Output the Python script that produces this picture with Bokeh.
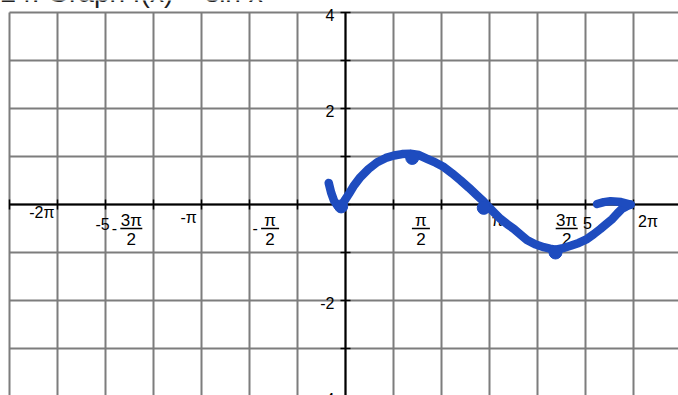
import numpy as np
from bokeh.plotting import figure
from bokeh.models import Range1d
from bokeh.core.properties import value
from bokeh.embed import file_html
from bokeh.resources import INLINE

PI = np.pi

# ---- axis labels -----------------------------------------------------------
y_label_vals = [4, 2, -2, -4]
y_label_text = ["4", "2", "-2", "-4"]

x_plain_vals = [-2 * PI, -5, -PI, PI, 5, 2 * PI]
x_plain_text = ["-2π", "-5", "-π", "π", "5", "2π"]

x_frac_vals = [-1.5 * PI, -0.5 * PI, 0.5 * PI, 1.5 * PI]
x_frac_sign = ["-", "-", "", ""]
x_frac_num = ["3π", "π", "π", "3π"]
x_frac_den = ["2", "2", "2", "2"]

# ---- hand-sketched graph of f(x) = sin x ----------------------------------
curve_x = [-0.10, -0.02, 0.07, 0.18, 0.31, 0.48, 0.66, 0.84, 1.01, 1.18, 1.35,
           1.53, 1.70, 1.88, 2.05, 2.22, 2.40, 2.57, 2.74, 2.87, 2.99, 3.11,
           3.23, 3.37, 3.51, 3.65, 3.78, 3.95, 4.13, 4.26, 4.375, 4.53, 4.69,
           4.86, 5.03, 5.17, 5.31, 5.44, 5.56, 5.66, 5.76, 5.85, 5.94]
curve_y = [-0.06, 0.08, 0.22, 0.40, 0.57, 0.74, 0.88, 0.97, 1.02, 1.05, 1.06,
           1.03, 0.95, 0.87, 0.78, 0.65, 0.50, 0.35, 0.19, 0.07, -0.06, -0.18,
           -0.30, -0.41, -0.51, -0.63, -0.74, -0.83, -0.89, -0.92, -0.94, -0.91,
           -0.86, -0.80, -0.72, -0.62, -0.51, -0.40, -0.30, -0.19, -0.09, -0.04, 0.0]
left_head_x = [-0.35, -0.30, -0.24, -0.17, -0.10]
left_head_y = [0.45, 0.25, 0.08, -0.02, -0.06]
right_head_x = [5.24, 5.38, 5.52, 5.74, 5.94]
right_head_y = [0.01, 0.05, 0.07, 0.05, 0.0]
point_x = [-0.09, 1.39, 2.88, 4.375]
point_y = [-0.04, 0.97, -0.07, -1.0]

# ---- layout ----------------------------------------------------------------
W, H = 678, 395
U = 48                      # pixels per unit
X0, Y0 = 345, 204           # pixel position of the origin
grid_x = list(range(-7, 7))
grid_y = list(range(-4, 5))
plain_dx = [-2, -3, -6, 1, 2, 1]
plain_dy = [8, 19, 13, 16, 18, 17]
frac_dx = [12, 0, 0, -5]

BLUE = "#1e4cbf"
GRID = "#7d7d7d"
FONT = value("Liberation Sans")

p = figure(width=W, height=H, output_backend="svg", toolbar_location=None,
           x_range=Range1d(-X0 / U, (W - X0) / U),
           y_range=Range1d((Y0 - H) / U, Y0 / U),
           min_border=0, outline_line_color=None)
p.axis.visible = False
p.grid.visible = False
p.background_fill_color = "white"
p.border_fill_color = "white"

xmin, xmax = -7, (W - X0) / U
ymin, ymax = (Y0 - H) / U - 0.1, 4

# graph paper
p.segment(x0=grid_x, y0=[ymin] * len(grid_x), x1=grid_x, y1=[ymax] * len(grid_x),
          line_color=GRID, line_width=2)
p.segment(x0=[xmin] * len(grid_y), y0=grid_y, x1=[xmax] * len(grid_y), y1=grid_y,
          line_color=GRID, line_width=2)

# axes and tick marks
p.segment(x0=[xmin, 0], y0=[0, ymin], x1=[xmax, 0], y1=[0, ymax],
          line_color="black", line_width=2)
t = 5 / U
p.segment(x0=grid_x, y0=[-t] * len(grid_x), x1=grid_x, y1=[t] * len(grid_x),
          line_color="black", line_width=1.5)
p.segment(x0=[-t] * len(grid_y), y0=grid_y, x1=[t] * len(grid_y), y1=grid_y,
          line_color="black", line_width=1.5)

def label(x, y, txt, dx=0, dy=0, align="center", size="16px", color="black"):
    p.text(x=[x], y=[y], text=[txt], x_offset=dx, y_offset=dy,
           text_align=align, text_baseline="middle", text_font=FONT,
           text_font_size=size, text_color=color)

# y labels
for yv, tx in zip(y_label_vals, y_label_text):
    label(0, yv, tx, dx=-11, dy=2, align="right")

# plain x labels
for xv, tx, dx, dy in zip(x_plain_vals, x_plain_text, plain_dx, plain_dy):
    label(xv, 0, tx, dx=dx, dy=dy)

# fractional x labels
for xv, sg, nm, dn, dx in zip(x_frac_vals, x_frac_sign, x_frac_num, x_frac_den, frac_dx):
    half = 7 + 2 * len(nm)
    cx = xv + dx / U
    label(cx, 0, nm, dy=16, size="17px")
    label(cx, 0, dn, dy=34, size="17px")
    p.segment(x0=[cx - half / U], y0=[-24 / U], x1=[cx + half / U], y1=[-24 / U],
              line_color="black", line_width=1.5)
    if sg:
        label(cx - (half + 6) / U, 0, sg, dy=23)

# heading of the worksheet item, mostly above the page
label(-X0 / U, Y0 / U, "24. Graph f(x) = sin x", dy=-8, align="left",
      size="28px", color="#222222")

# the sketched curve
for xs, ys in ((curve_x, curve_y), (left_head_x, left_head_y),
               (right_head_x, right_head_y)):
    p.line(xs, ys, line_color=BLUE, line_width=8.5, line_cap="round",
           line_join="round")
p.scatter(point_x, point_y, size=13, fill_color=BLUE, line_color=BLUE)

open("out.html", "w").write(file_html(p, INLINE))
